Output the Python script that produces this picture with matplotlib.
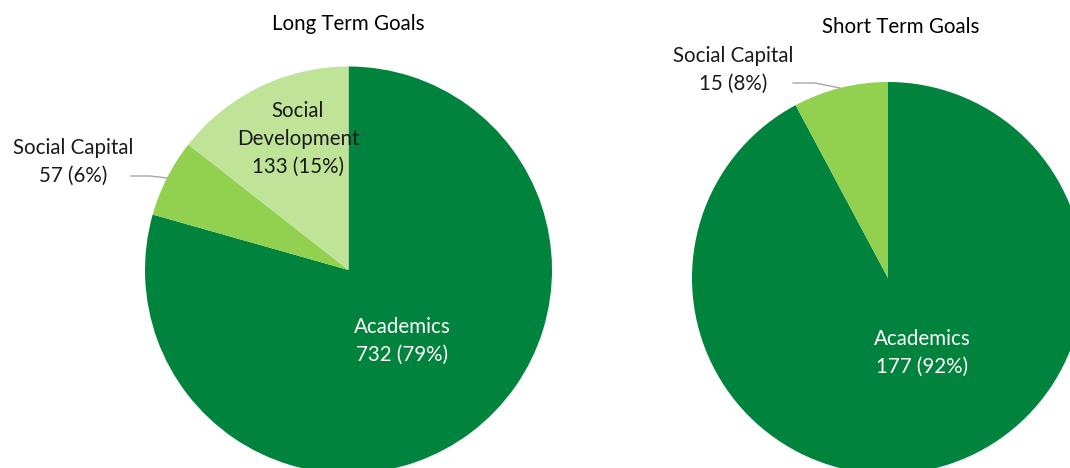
import matplotlib.pyplot as plt

plt.rcParams['font.family'] = ['Lato', 'DejaVu Sans']

# data
long_labels = ['Academics', 'Social Capital', 'Social\nDevelopment']
long_values = [732, 57, 133]
long_pcts = [79, 6, 15]
short_labels = ['Academics', 'Social Capital']
short_values = [177, 15]
short_pcts = [92, 8]

dark_green = '#00843D'
mid_green = '#92D050'
light_green = '#C0E497'
fs = 14.8
ls = 1.5

fig = plt.figure(figsize=(10.7, 4.68), dpi=100)
ax = fig.add_axes([0, 0, 1, 1])


def lab(name, v, p):
    return '%s\n%d (%d%%)' % (name, v, p)


# long term pie
ax.pie(long_values, colors=[dark_green, mid_green, light_green],
       startangle=90, counterclock=False, center=(348.5, -270), radius=203.5,
       wedgeprops=dict(linewidth=0))
ax.text(402, -341, lab(long_labels[0], long_values[0], long_pcts[0]),
        ha='center', va='center', color='white', fontsize=fs, linespacing=ls)
ax.text(298, -139, lab(long_labels[2], long_values[2], long_pcts[2]),
        ha='center', va='center', color='#1a1a1a', fontsize=fs, linespacing=ls)
ax.text(73, -162, lab(long_labels[1], long_values[1], long_pcts[1]),
        ha='center', va='center', color='#1a1a1a', fontsize=fs, linespacing=ls)
ax.plot([131, 150, 167], [-176, -176, -178], color='#A6A6A6', lw=1)
ax.text(348, -24, 'Long Term Goals', ha='center', va='center', fontsize=fs)

# short term pie
ax.pie(short_values, colors=[dark_green, mid_green],
       startangle=90, counterclock=False, center=(888, -278), radius=196,
       wedgeprops=dict(linewidth=0))
ax.text(922, -353, lab(short_labels[0], short_values[0], short_pcts[0]),
        ha='center', va='center', color='white', fontsize=fs, linespacing=ls)
ax.text(733, -70, lab(short_labels[1], short_values[1], short_pcts[1]),
        ha='center', va='center', color='#1a1a1a', fontsize=fs, linespacing=ls)
ax.plot([793, 815, 840], [-83, -83, -88], color='#A6A6A6', lw=1)
ax.text(901, -27, 'Short Term Goals', ha='center', va='center', fontsize=fs)

ax.set_xlim(0, 1070)
ax.set_ylim(-468, 0)
ax.set_aspect('auto')
ax.axis('off')

fig.savefig('out.png', dpi=100)
